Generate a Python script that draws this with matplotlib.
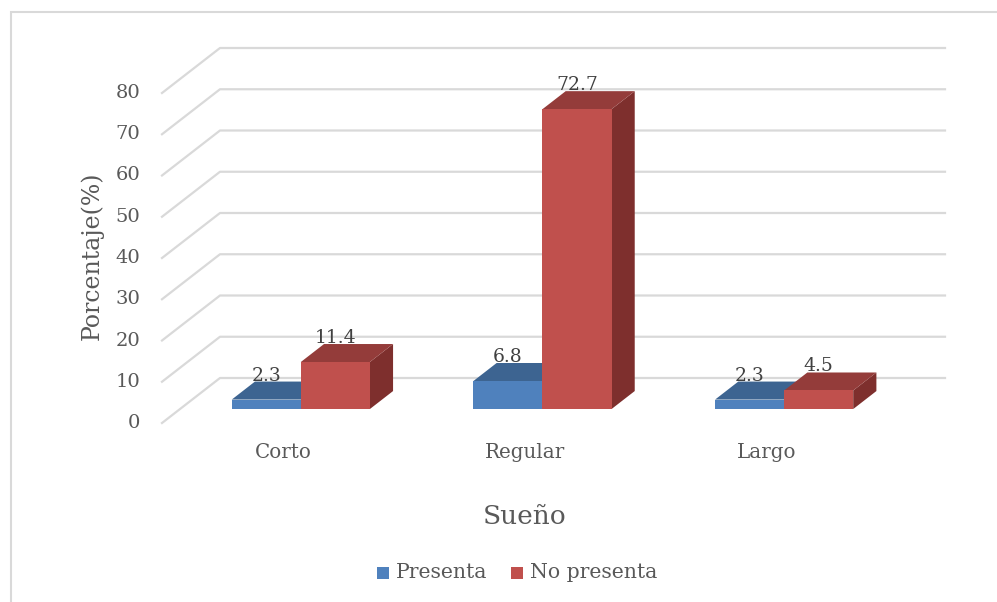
"""
Gráfico de barras 3D: Sueño vs presencia (porcentajes)
"""

import matplotlib.pyplot as plt
from matplotlib.patches import Polygon, Rectangle

categorias = ["Corto", "Regular", "Largo"]
presenta = [2.3, 6.8, 2.3]
no_presenta = [11.4, 72.7, 4.5]
series = ["Presenta", "No presenta"]
yticks = [0, 10, 20, 30, 40, 50, 60, 70, 80]

W, H = 997, 602
color_txt = "#595959"
color_grid = "#d9d9d9"
caras = {
    "Presenta": ("#4f81bd", "#3d6491", "#35577f"),
    "No presenta": ("#c0504d", "#943c3a", "#7e2f2d"),
}

plt.rcParams["font.family"] = ["DejaVu Serif"]

fig = plt.figure(figsize=(W / 100, H / 100), dpi=100)

# área del gráfico en píxeles (plano frontal 0 -> pared de fondo)
x0, x1, y0, y1 = 162, 945, 423, 48
ax = fig.add_axes([x0 / W, 1 - y0 / H, (x1 - x0) / W, (y0 - y1) / H])
px_cat = 241.7
px_val = 4.125
dxd = 58 / px_cat      # desplazamiento en profundidad (unidades de categoría)
dyd = 45 / px_val      # desplazamiento en profundidad (unidades de valor)
ax.set_xlim(0, len(categorias) + dxd)
ax.set_ylim(0, yticks[-1] + dyd)
ax.axis("off")


def proy(x, y, t):
    return (x + t * dxd, y + t * dyd)


# cuadrícula: diagonal del suelo + línea en la pared de fondo
for v in yticks:
    pts = [proy(0, v, 0), proy(0, v, 1), proy(len(categorias), v, 1)]
    ax.plot([p[0] for p in pts], [p[1] for p in pts], color=color_grid,
            lw=1.6, clip_on=False, zorder=1)
    ax.text(-22 / px_cat, v, str(v), ha="right", va="center",
            fontsize=14, color=color_txt)

ancho = 1 / 3.5
t0, t1 = 0.31, 0.71


def barra(xl, v, serie):
    frente, arriba, lado = caras[serie]
    xr = xl + ancho
    ax.add_patch(Polygon([proy(xr, 0, t0), proy(xr, 0, t1), proy(xr, v, t1),
                          proy(xr, v, t0)], closed=True, fc=lado, ec="none",
                         zorder=2))
    ax.add_patch(Polygon([proy(xl, v, t0), proy(xr, v, t0), proy(xr, v, t1),
                          proy(xl, v, t1)], closed=True, fc=arriba, ec="none",
                         zorder=2))
    ax.add_patch(Polygon([proy(xl, 0, t0), proy(xr, 0, t0), proy(xr, v, t0),
                          proy(xl, v, t0)], closed=True, fc=frente, ec="none",
                         zorder=2))
    cx = proy(xl + ancho / 2, 0, t0)[0]
    ax.text(cx, v + t1 * dyd + 6 / px_val, f"{v:.1f}", ha="center",
            va="center", fontsize=13.5, color="#404040", zorder=3)


for i, cat in enumerate(categorias):
    c = i + 0.5
    barra(c - ancho, presenta[i], "Presenta")
    barra(c, no_presenta[i], "No presenta")
    ax.text(c, -(453 - y0) / px_val, cat, ha="center", va="center",
            fontsize=14.3, color=color_txt)

# títulos de ejes
fig.text(92 / W, 1 - 256 / H, "Porcentaje(%)", rotation=90, ha="center",
         va="center", fontsize=17, color=color_txt)
fig.text(525 / W, 1 - 517 / H, "Sueño", ha="center", va="center",
         fontsize=19, color=color_txt)

# leyenda
leg_x = [377, 511]
for serie, lx in zip(series, leg_x):
    fig.patches.append(Rectangle((lx / W, 1 - 579 / H), 12 / W, 12 / H,
                                 transform=fig.transFigure,
                                 fc=caras[serie][0], ec="none"))
    fig.text((lx + 19) / W, 1 - 573 / H, serie, ha="left", va="center",
             fontsize=14.7, color=color_txt)

# borde del gráfico
fig.patches.append(Rectangle((11 / W, -0.05), 1.05, 1 - 12 / H + 0.05,
                             transform=fig.transFigure, fill=False,
                             ec=color_grid, lw=1.5))

fig.savefig("out.png", dpi=100)
